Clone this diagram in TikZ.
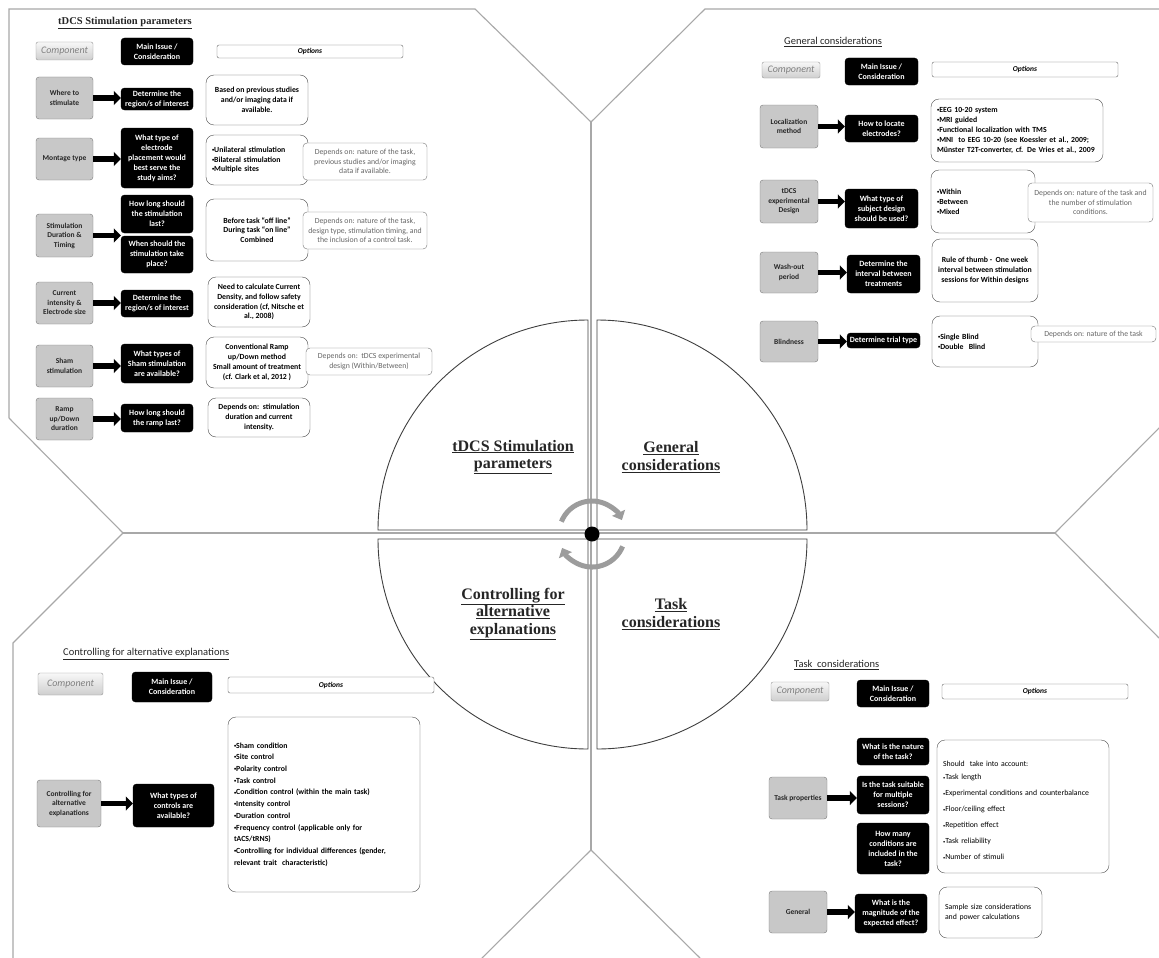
\documentclass[tikz,border=0pt]{standalone}
\usepackage{fontspec}
\setmainfont{Carlito}
\newfontfamily\serifbf{Liberation Serif}
\usetikzlibrary{arrows.meta}

\definecolor{panelline}{HTML}{A8A8A8}
\definecolor{compfill}{HTML}{C8C8C8}
\definecolor{compline}{HTML}{7A7A7A}
\definecolor{hdrtext}{HTML}{808080}
\definecolor{cyclegray}{HTML}{9C9C9C}

% small list bullet
\newcommand\bul{\raisebox{0.25ex}{\fontsize{4.5}{5}\selectfont•}}

% box given by its corners (x1,y1)-(x2,y2), centred text
\newcommand\boxat[7]{%
  \pgfmathsetmacro\bxcx{(#3+#5)/2}%
  \pgfmathsetmacro\bxcy{(#4+#6)/2}%
  \pgfmathsetmacro\bxw{#5-#3}%
  \pgfmathsetmacro\bxh{#6-#4}%
  \node[#2, minimum width=\bxw pt, minimum height=\bxh pt] (#1) at (\bxcx,\bxcy) {#7};}
% same, with left-aligned text
\newcommand\lboxat[7]{%
  \pgfmathsetmacro\bxcx{(#3+#5)/2}%
  \pgfmathsetmacro\bxcy{(#4+#6)/2}%
  \pgfmathsetmacro\bxw{#5-#3}%
  \pgfmathsetmacro\bxh{#6-#4}%
  \pgfmathsetmacro\bxtw{#5-#3-12}%
  \node[#2, align=left, text width=\bxtw pt, inner xsep=6pt, minimum width=\bxw pt, minimum height=\bxh pt] (#1) at (\bxcx,\bxcy) {#7};}

\tikzset{
  every node/.style={inner sep=1pt},
  hdrcomp/.style={draw=compline!80, rounded corners=2pt, top color=gray!6, bottom color=gray!38,
    text=hdrtext, font=\fontsize{10}{12}\selectfont\itshape},
  compbox/.style={draw=compline, fill=compfill, rounded corners=3pt, text=black!85,
    font=\fontsize{7.5}{9.5}\selectfont\bfseries, align=center},
  issue/.style={fill=black, draw=black, rounded corners=3.5pt, text=white,
    font=\fontsize{8}{10}\selectfont\bfseries, align=center},
  optbar/.style={draw=black!60, fill=white, rounded corners=2pt,
    font=\fontsize{7.5}{9}\selectfont\bfseries\itshape},
  optbox/.style={draw=black!70, fill=white, rounded corners=8pt,
    font=\fontsize{7.8}{9.8}\selectfont\bfseries, align=center},
  optboxr/.style={draw=black!70, fill=white, rounded corners=8pt,
    font=\fontsize{7.8}{9.8}\selectfont},
  note/.style={draw=black!55, fill=white, rounded corners=4pt, text=black!60,
    font=\fontsize{7.8}{9.6}\selectfont, align=center},
  flow/.style={line width=5.5pt, -{Triangle[length=7pt,width=14pt]}},
  panel/.style={draw=panelline, line width=1.1pt},
  quad/.style={draw=black!75, line width=0.9pt, fill=white},
  turn/.style={draw=cyclegray, line width=5pt, -{Triangle[length=8pt,width=14pt]}},
  qlabel/.style={font=\serifbf\bfseries\fontsize{16}{17.5}\selectfont, align=center, text=black!85},
  ptitle/.style={anchor=west, font=\fontsize{10.5}{12}\selectfont, text=black!85},
}

\begin{document}
\begin{tikzpicture}[x=1pt,y=-1pt]
\fill[white] (0,0) rectangle (1159,958);
\useasboundingbox (0,0) rectangle (1159,958);

% ---- panel frame lines ----
\draw[panel] (9,418) -- (9,9) -- (475,9) -- (591,122) -- (705,9) -- (1159,9);
\draw[panel] (591,122) -- (591,850);
\draw[panel] (482,958) -- (591,850) -- (700,958);
\draw[panel] (9,418) -- (123,533) -- (13,643) -- (13,958);
\draw[panel] (123,533) -- (1055,533);
\draw[panel] (1159,428) -- (1055,533) -- (1159,638);

% ---- central circle in four quadrants ----
\begin{scope}[shift={(592,534)}, yscale=-1]
  \draw[quad] (-4,4) -- (-214,4) arc[start angle=180, end angle=90, radius=210] -- cycle;
  \draw[quad] (5,4) -- (5,214) arc[start angle=90, end angle=0, radius=210] -- cycle;
  \draw[quad] (-4,-5) -- (-214,-5) arc[start angle=180, end angle=270, radius=210] -- cycle;
  \draw[quad] (5,-5) -- (215,-5) arc[start angle=0, end angle=-90, radius=210] -- cycle;
  \draw[turn] (158:33) arc[start angle=158, end angle=25, radius=33];
  \draw[turn] (-22:33) arc[start angle=-22, end angle=-155, radius=33];
\end{scope}
\node[circle, fill=black, minimum size=15pt, inner sep=0pt] (hub) at (592,534) {};

\node[qlabel] (qtl) at (513,457) {\underline{tDCS Stimulation}\\\underline{parameters}};
\node[qlabel] (qtr) at (671,457) {\underline{General}\\\underline{considerations}};
\node[qlabel] (qbl) at (513,614) {\underline{Controlling for}\\\underline{alternative}\\\underline{explanations}};
\node[qlabel] (qbr) at (671,614) {\underline{Task}\\\underline{considerations}};

% =========== tDCS stimulation parameters ===========
\node[ptitle, font=\serifbf\bfseries\fontsize{10.5}{12}\selectfont] (t1) at (57,23) {\underline{tDCS Stimulation parameters}};
\boxat{ah}{hdrcomp}{36}{42}{93}{60}{Component}
\boxat{am}{issue}{121}{38}{193}{65}{Main Issue /\\Consideration}
\boxat{ao}{optbar}{217}{45}{403}{58}{Options}

\boxat{ag1}{compbox}{36}{77}{93}{119}{Where to\\stimulate}
\boxat{ab1}{issue}{121}{88}{193}{110}{Determine the\\region/s of interest}
\boxat{aw1}{optbox}{206}{75}{308}{125}{Based on previous studies\\and/or imaging data if\\available.}

\boxat{ag2}{compbox}{36}{138}{93}{180}{Montage type}
\boxat{ab2}{issue}{121}{128}{193}{188}{What type of\\electrode\\placement would\\best serve the\\study aims?}
\lboxat{aw2}{optbox}{206}{135}{308}{185}{\bul Unilateral stimulation\\\bul Bilateral stimulation\\\bul Multiple sites\\[9pt]}
\boxat{as2}{note}{303}{143}{427}{180}{Depends on: nature of the task,\\previous studies and/or imaging\\data if available.}

\boxat{ag3}{compbox}{36}{214}{93}{257}{Stimulation\\Duration \&\\Timing}
\boxat{ab3}{issue}{121}{195}{193}{233}{How long should\\the stimulation\\last?}
\boxat{ab3b}{issue}{121}{236}{193}{273}{When should the\\stimulation take\\place?}
\boxat{aw3}{optbox}{206}{199}{308}{261}{Before task “off line”\\During task “on line”\\Combined}
\boxat{as3}{note}{303}{212}{427}{249}{Depends on: nature of the task,\\design type, stimulation timing, and\\the inclusion of a control task.}

\boxat{ag4}{compbox}{36}{282}{93}{324}{Current\\intensity \&\\Electrode size}
\boxat{ab4}{issue}{121}{290}{193}{317}{Determine the\\region/s of interest}
\boxat{aw4}{optbox}{208}{277}{310}{327}{Need to calculate Current\\Density, and follow safety\\consideration (cf, Nitsche et\\al., 2008)}

\boxat{ag5}{compbox}{36}{345}{93}{387}{Sham\\stimulation}
\boxat{ab5}{issue}{121}{344}{193}{383}{What types of\\Sham stimulation\\are available?}
\boxat{aw5}{optbox}{206}{337}{308}{388}{Conventional Ramp\\up/Down method\\Small amount of treatment\\(cf. Clark et al, 2012 )}
\boxat{as5}{note}{306}{348}{432}{375}{Depends on:\ \ tDCS experimental\\design (Within/Between)}

\boxat{ag6}{compbox}{36}{398}{93}{440}{Ramp\\up/Down\\duration}
\boxat{ab6}{issue}{121}{404}{193}{432}{How long should\\the ramp last?}
\boxat{aw6}{optbox}{208}{398}{310}{437}{Depends on:\ \ stimulation\\duration and current\\intensity.}

\draw[flow] (ag1.east) -- (ag1.east -| ab1.west);
\draw[flow] (ag2.east) -- (ag2.east -| ab2.west);
\draw[flow] (ag3.east) -- (ag3.east -| ab3.west);
\draw[flow] (ag4.east) -- (ag4.east -| ab4.west);
\draw[flow] (ag5.east) -- (ag5.east -| ab5.west);
\draw[flow] (ag6.east) -- (ag6.east -| ab6.west);

% =========== General considerations ===========
\node[ptitle] (t2) at (783,42) {\underline{General considerations}};
\boxat{bh}{hdrcomp}{762}{62}{820}{78}{Component}
\boxat{bm}{issue}{845}{58}{918}{85}{Main Issue /\\Consideration}
\boxat{bo}{optbar}{932}{62}{1118}{77}{Options}

\boxat{bg1}{compbox}{760}{105}{818}{148}{Localization\\method}
\boxat{bb1}{issue}{845}{115}{918}{142}{How to locate\\electrodes?}
\lboxat{bw1}{optbox}{931}{99}{1103}{162}{\bul EEG 10-20 system\\\bul MRI guided\\\bul Functional localization with TMS\\\bul MNI\ \ to EEG 10-20 (see Koessler et al., 2009;\\Münster T2T-converter, cf. De Vries et al., 2009}

\boxat{bg2}{compbox}{760}{180}{818}{223}{tDCS\\experimental\\Design}
\boxat{bb2}{issue}{845}{189}{918}{228}{What type of\\subject design\\should be used?}
\lboxat{bw2}{optbox}{931}{170}{1035}{233}{\bul Within\\\bul Between\\\bul Mixed}
\boxat{bs2}{note}{1028}{183}{1153}{222}{Depends on: nature of the task and\\the number of stimulation\\conditions.}

\boxat{bg3}{compbox}{760}{252}{818}{293}{Wash-out\\period}
\boxat{bb3}{issue}{847}{255}{920}{293}{Determine the\\interval between\\treatments}
\boxat{bw3}{optbox}{932}{239}{1038}{302}{Rule of thumb -\ \ One week\\interval between stimulation\\sessions for Within designs}

\boxat{bg4}{compbox}{760}{321}{818}{362}{Blindness}
\boxat{bb4}{issue}{847}{333}{920}{348}{Determine trial type}
\lboxat{bw4}{optbox}{932}{316}{1038}{367}{\bul Single Blind\\\bul Double\ \ Blind}
\boxat{bs4}{note}{1031}{326}{1156}{342}{Depends on: nature of the task}

\draw[flow] (bg1.east) -- (bg1.east -| bb1.west);
\draw[flow] (bg2.east) -- (bg2.east -| bb2.west);
\draw[flow] (bg3.east) -- (bg3.east -| bb3.west);
\draw[flow] (bg4.east) -- (bg4.east -| bb4.west);

% =========== Controlling for alternative explanations ===========
\node[ptitle] (t3) at (62,654) {\underline{Controlling for alternative explanations}};
\boxat{ch}{hdrcomp}{38}{673}{103}{695}{Component}
\boxat{cm}{issue}{132}{672}{212}{702}{Main Issue /\\Consideration}
\boxat{co}{optbar}{228}{677}{434}{693}{Options}

\boxat{cg1}{compbox}{37}{780}{101}{827}{Controlling for\\alternative\\explanations}
\boxat{cb1}{issue}{133}{784}{214}{827}{What types of\\controls are\\available?}
\lboxat{cw1}{optbox, font=\fontsize{7.8}{11.7}\selectfont\bfseries, inner xsep=10pt}{228}{717}{420}{892}{\bul Sham condition\\\bul Site control\\\bul Polarity control\\\bul Task control\\\bul Condition control (within the main task)\\\bul Intensity control\\\bul Duration control\\\bul Frequency control (applicable only for\\tACS/tRNS)\\\bul Controlling for individual differences (gender,\\relevant trait\ \ characteristic)}

\draw[flow] (cg1.east) -- (cg1.east -| cb1.west);

% =========== Task considerations ===========
\node[ptitle] (t4) at (793,665) {\underline{Task\hspace{0.45em}considerations}};
\boxat{dh}{hdrcomp}{771}{682}{829}{701}{Component}
\boxat{dm}{issue}{857}{680}{929}{707}{Main Issue /\\Consideration}
\boxat{do}{optbar}{942}{684}{1128}{699}{Options}

\boxat{dg1}{compbox}{769}{777}{827}{819}{Task properties}
\boxat{db1}{issue}{857}{738}{929}{765}{What is the nature\\of the task?}
\boxat{db2}{issue}{857}{776}{929}{814}{Is the task suitable\\for multiple\\sessions?}
\boxat{db3}{issue}{857}{823}{929}{874}{How many\\conditions are\\included in the\\task?}
\lboxat{dw1}{optboxr, font=\fontsize{7.8}{16}\selectfont}{937}{740}{1109}{873}{\mbox{}\\[-2pt]Should\ \ take into account:\\[-3pt]\bul Task length\\\bul Experimental conditions and counterbalance\\\bul Floor/ceiling effect\\\bul Repetition effect\\\bul Task reliability\\\bul Number of stimuli}

\boxat{dg2}{compbox}{769}{891}{827}{933}{General}
\boxat{db4}{issue}{855}{894}{927}{933}{What is the\\magnitude of the\\expected effect?}
\lboxat{dw2}{optboxr}{939}{887}{1042}{938}{Sample size considerations\\and power calculations}

\draw[flow] (dg1.east) -- (dg1.east -| db2.west);
\draw[flow] (dg2.east) -- (dg2.east -| db4.west);
\end{tikzpicture}
\end{document}
